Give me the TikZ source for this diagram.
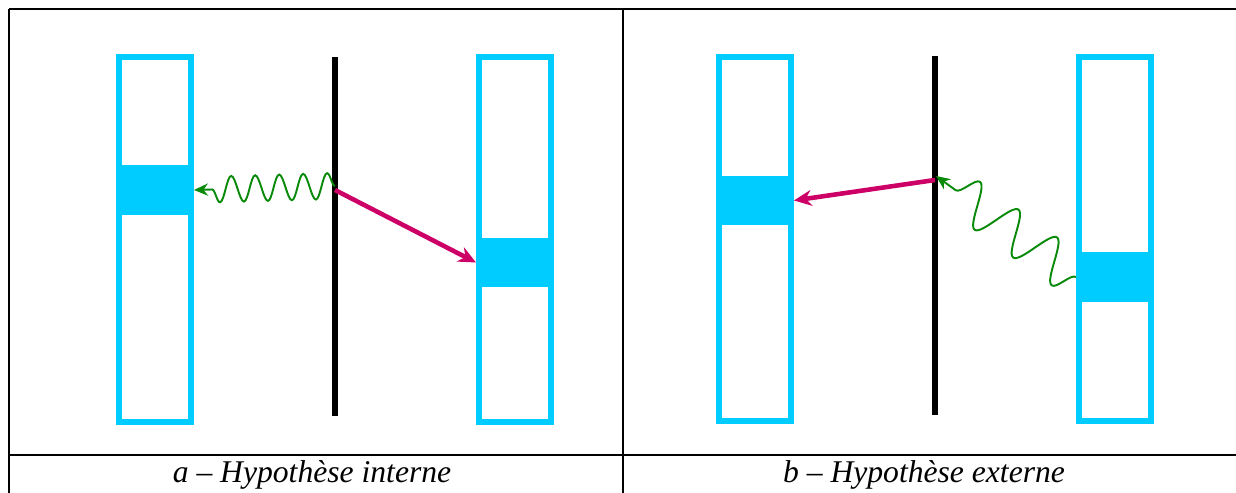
\documentclass[tikz,border=0pt]{standalone}
\usepackage{fontspec}
\setmainfont{Liberation Serif}
\usetikzlibrary{positioning, arrows.meta, decorations.pathmorphing}
\definecolor{barCyan}{HTML}{00CCFF}
\definecolor{elecMagenta}{HTML}{CC0066}
\definecolor{photGreen}{HTML}{0A8A0A}

\begin{document}
\begin{tikzpicture}[x=0.02cm, y=-0.02cm,
    grid/.style={line width=1.3pt, black},
    bar/.style={draw=barCyan, line width=3.4pt, minimum width=1.44cm, minimum height=7.3cm, inner sep=0pt},
    lev/.style={bar, fill=barCyan, minimum height=0.88cm},
    wall/.style={line width=3.4pt, black},
    elec/.style={-{Stealth[length=10pt, width=9pt]}, elecMagenta, line width=2.6pt},
    phot/.style={-{Stealth[length=8pt, width=7pt]}, photGreen, line width=1.1pt, decorate},
    capt/.style={anchor=base, font=\fontsize{18}{20}\selectfont\itshape}]
    \useasboundingbox (0,0) rectangle (1236,493);
    \draw[grid] (9,9) -- (1236,9) (9,455) -- (1236,455);
    \foreach \x in {9,623} \draw[grid] (\x,9) -- (\x,493);
    % a - interne
    \node[bar] (aL) at (155,239.5) {};
    \node[bar] (aR) at (515,239.5) {};
    \node[lev] (aLlev) at (155,190) {};
    \node[lev] (aRlev) at (515,262.5) {};
    \draw[wall] (335,57) -- (335,416);
    \coordinate (aWe) at (335,190);
    \coordinate (aWp) at (335,186);
    \draw[elec] (aWe) -- (aRlev.west);
    \draw[phot, decoration={snake, mirror, amplitude=0.26cm, segment length=0.48cm, post length=0.2cm}] (aWp) -- (aLlev.east);
    \node[capt] (aCap) at (312,482) {a – Hypothèse interne};
    % b - externe
    \node[bar] (bL) at (755,239) {};
    \node[bar] (bR) at (1115,239) {};
    \node[lev] (bLlev) at (755,200.5) {};
    \node[lev] (bRlev) at (1115,277) {};
    \draw[wall] (935,56) -- (935,415);
    \coordinate (bWe) at (935,180);
    \coordinate (bWp) at (936,176);
    \draw[elec] (bWe) -- (bLlev.east);
    \draw[phot, decoration={snake, amplitude=0.42cm, segment length=0.95cm, post length=0.25cm}] (bRlev.west) -- (bWp);
    \node[capt] (bCap) at (924,482) {b – Hypothèse externe};
\end{tikzpicture}
\end{document}
